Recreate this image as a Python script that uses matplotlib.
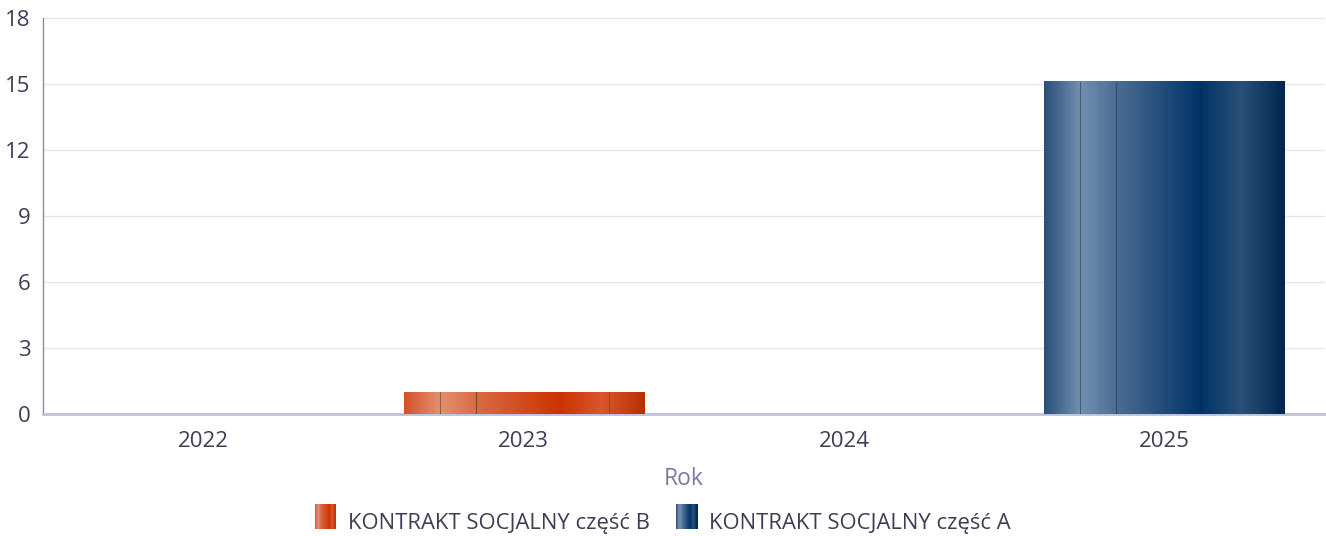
import numpy as np
import matplotlib.pyplot as plt
from matplotlib.colors import LinearSegmentedColormap
from matplotlib.patches import Rectangle
from matplotlib.legend_handler import HandlerBase

plt.rcParams['font.family'] = ['Open Sans', 'DejaVu Sans']

lata = ["2022", "2023", "2024", "2025"]
czesc_b = [0, 1, 0, 0]
czesc_a = [0, 0, 0, 15.1]
serie = ["KONTRAKT SOCJALNY część B", "KONTRAKT SOCJALNY część A"]

# gradienty slupkow (pozycja, kolor)
grad_b = [(0.0, "#d4522a"), (0.15, "#e3906f"), (0.30, "#da6a45"),
          (0.65, "#cc3300"), (0.82, "#d9562e"), (1.0, "#b83000")]
grad_a = [(0.0, "#2a4f7a"), (0.15, "#7290b0"), (0.30, "#4c6d93"),
          (0.65, "#003366"), (0.82, "#2a5078"), (1.0, "#00264f")]
linie_b = [(0.15, 0.35), (0.30, 0.35), (0.855, 0.15)]
linie_a = [(0.15, 0.35), (0.30, 0.3), (0.65, 0.08)]

cm_b = LinearSegmentedColormap.from_list("b", grad_b)
cm_a = LinearSegmentedColormap.from_list("a", grad_a)

fig = plt.figure(figsize=(13.26, 5.36), dpi=100)
ax = fig.add_axes([0.0325, 0.2276, 0.9665, 0.7388])

x = np.arange(len(lata))
szer = 0.75
grad = np.linspace(0, 1, 256).reshape(1, -1)


def slupek(xc, h, cmap, linie):
    if h <= 0:
        return
    x0 = xc - szer / 2
    ax.imshow(grad, cmap=cmap, aspect='auto', extent=(x0, x0 + szer, 0, h),
              zorder=3, interpolation='bilinear')
    for p, a in linie:
        ax.plot([x0 + p * szer] * 2, [0, h], color="#000000", alpha=a,
                lw=0.8, zorder=4)


for i in range(len(lata)):
    slupek(x[i], czesc_b[i], cm_b, linie_b)
    slupek(x[i], czesc_a[i], cm_a, linie_a)

ax.set_xlim(-0.5, len(lata) - 0.5)
ax.set_ylim(0, 18)
ax.set_yticks(range(0, 19, 3))
ax.set_xticks(x)
ax.set_xticklabels(lata)
ax.grid(axis='y', color="#e6e6e6", lw=1, zorder=0)
ax.set_axisbelow(True)
ax.tick_params(axis='both', length=0, labelsize=16, colors="#3d3d55")
ax.tick_params(axis='x', pad=12)
ax.tick_params(axis='y', pad=9)
for s in ["top", "right"]:
    ax.spines[s].set_visible(False)
ax.spines["left"].set_color("#8a8aa6")
ax.spines["left"].set_linewidth(1)
ax.spines["bottom"].set_color("#c0c0d8")
ax.spines["bottom"].set_linewidth(2)
ax.set_xlabel("Rok", fontsize=16.5, color="#7a7a9e", labelpad=11)


class GradHandler(HandlerBase):
    def __init__(self, cmap):
        super().__init__()
        self.cmap = cmap

    def create_artists(self, legend, orig, xd, yd, w, h, fontsize, trans):
        n = 20
        out = []
        for k in range(n):
            r = Rectangle((xd + w * k / n, yd - 2), w / n + 0.3, h + 4,
                          facecolor=self.cmap((k + 0.5) / n), lw=0,
                          transform=trans)
            out.append(r)
        return out


h1 = Rectangle((0, 0), 1, 1)
h2 = Rectangle((0, 0), 1, 1)
fig.legend([h1, h2], serie, loc="lower center", ncol=2, frameon=False,
           fontsize=15.8, labelcolor="#3d3d55", handlelength=0.95,
           handleheight=1.0, columnspacing=1.2, handletextpad=0.55,
           handler_map={h1: GradHandler(cm_b), h2: GradHandler(cm_a)},
           bbox_to_anchor=(0.5, -0.033))

fig.savefig("out.png", dpi=100)
